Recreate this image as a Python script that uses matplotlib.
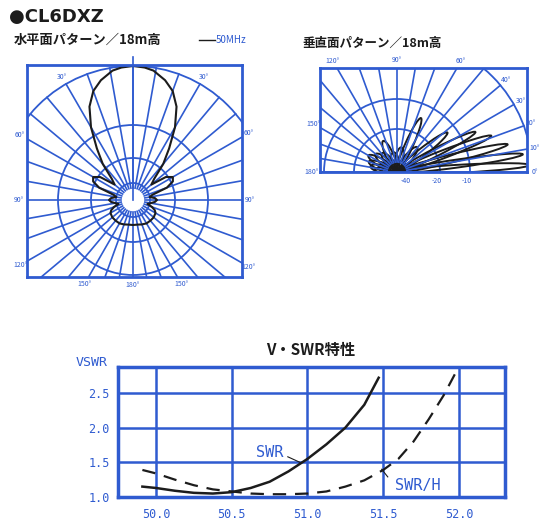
import numpy as np
import matplotlib
matplotlib.use("Agg")
import matplotlib.pyplot as plt
from matplotlib.patches import Circle, Ellipse

plt.rcParams['font.family'] = ['Noto Sans CJK JP', 'DejaVu Sans']

W, H = 550, 521
BLUE = '#2f5bd0'
INK = '#1c1c1c'

# ---------------- horizontal pattern (pixels from centre, angle from front) ----------------
h_ang = [0, 5, 9, 15, 20, 25, 30, 35, 40, 45, 50, 55, 60, 65, 70, 75, 80, 85,
         90, 95, 100, 105, 110, 115, 120, 130, 140, 150, 160, 170, 180]
h_rad = [134, 133, 131, 124, 116, 103, 84, 63, 47, 30, 24, 40, 46, 44, 36, 20, 17, 22,
         24, 22, 18, 15, 20, 24, 26, 27, 27, 27, 26, 25, 25]
h_rings = [134, 75, 42, 17]
h_label_ang = [30, 60, 90, 120, 150, 180]

# ---------------- vertical pattern (lobes: elevation deg, length px) ----------------
v_lobe_ang = [3, 8, 14, 21, 27, 38, 51, 66, 80, 100, 114, 128, 140, 150, 160, 168, 175]
v_lobe_len = [133, 127, 114, 101, 88, 64, 32, 59, 25, 20, 34, 24, 28, 33, 30, 27, 22]
v_rings = [135, 73, 43, 12]
v_ring_text = ['', '-10', '-20', '-40']
v_label_ang = [0, 10, 20, 30, 40, 60, 90, 120, 150, 180]

# ---------------- VSWR ----------------
freq_swr = [49.91, 50.0, 50.125, 50.25, 50.375, 50.5, 50.625, 50.75, 50.875, 51.0,
            51.125, 51.25, 51.375, 51.47]
swr = [1.15, 1.13, 1.09, 1.06, 1.05, 1.07, 1.13, 1.22, 1.37, 1.55, 1.76, 2.0, 2.33, 2.72]
freq_swrh = [49.91, 50.0, 50.125, 50.25, 50.375, 50.5, 50.625, 50.75, 50.875, 51.0,
             51.125, 51.25, 51.375, 51.5, 51.6, 51.7, 51.8, 51.9, 51.98]
swrh = [1.39, 1.34, 1.25, 1.17, 1.11, 1.08, 1.05, 1.04, 1.04, 1.05,
        1.08, 1.15, 1.24, 1.39, 1.55, 1.8, 2.12, 2.47, 2.8]
x_ticks = [50.0, 50.5, 51.0, 51.5, 52.0]
y_ticks = [1.0, 1.5, 2.0, 2.5]


def px_axes(fig, x0, y0, x1, y1):
    return fig.add_axes([x0 / W, 1 - y1 / H, (x1 - x0) / W, (y1 - y0) / H])


def exit_dist(dx, dy, lims, R):
    xmin, xmax, ymin, ymax = lims
    t = R
    if dx > 1e-9:
        t = min(t, xmax / dx)
    elif dx < -1e-9:
        t = min(t, xmin / dx)
    if dy > 1e-9:
        t = min(t, ymax / dy)
    elif dy < -1e-9:
        t = min(t, ymin / dy)
    return t


def frame(ax, lims):
    ax.set_xlim(lims[0], lims[1])
    ax.set_ylim(lims[2], lims[3])
    ax.set_xticks([])
    ax.set_yticks([])
    for s in ax.spines.values():
        s.set_color(BLUE)
        s.set_linewidth(2)


fig = plt.figure(figsize=(W / 100, H / 100), dpi=100)

# ---- headings ----
fig.text(9 / W, 1 - 17 / H, '●CL6DXZ', family='DejaVu Sans', fontsize=13,
         weight='bold', va='center', color=INK)
fig.text(14 / W, 1 - 40 / H, '水平面パターン／18m高', fontsize=9.5, weight='bold',
         va='center', color=INK)
fig.add_artist(plt.Line2D([199 / W, 215 / W], [1 - 40 / H, 1 - 40 / H], color=INK, lw=1))
fig.text(216 / W, 1 - 40 / H, '50MHz', fontsize=7, va='center', color=BLUE)
fig.text(302 / W, 1 - 43 / H, '垂直面パターン／18m高', fontsize=9, weight='bold',
         va='center', color=INK)

# ---- horizontal pattern ----
hl = (-106, 109, -77, 135)
ax1 = px_axes(fig, 27, 65, 242, 277)
frame(ax1, hl)
for r in h_rings:
    ax1.add_patch(Circle((0, 0), r, fill=False, color=BLUE, lw=1.3))
for a in range(0, 360, 10):
    t = np.radians(a)
    ax1.plot([12 * np.sin(t), h_rings[0] * np.sin(t)], [12 * np.cos(t), h_rings[0] * np.cos(t)],
             color=BLUE, lw=1.2)
ax1.plot([0, 0], [0, 143], color=BLUE, lw=1.2, clip_on=False)
for a in h_label_ang:
    for side in ([1, -1] if a % 180 else [1]):
        t = np.radians(a)
        dx, dy = side * np.sin(t), np.cos(t)
        d = exit_dist(dx, dy, hl, h_rings[0]) + 8
        ax1.text(d * dx, d * dy, f'{a}°', fontsize=5, color=BLUE, ha='center',
                 va='center', clip_on=False)
ang = np.radians(np.array(h_ang))
rad = np.array(h_rad)
hx = np.concatenate([rad * np.sin(ang), -(rad * np.sin(ang))[::-1]])
hy = np.concatenate([rad * np.cos(ang), (rad * np.cos(ang))[::-1]])
ax1.plot(hx, hy, color=INK, lw=1.5)

# ---- vertical pattern ----
vl = (-77, 130, 0, 104)
ax2 = px_axes(fig, 320, 68, 527, 172)
frame(ax2, vl)
for r in v_rings:
    ax2.add_patch(Circle((0, 0), r, fill=False, color=BLUE, lw=1.3))
for a in range(0, 181, 10):
    t = np.radians(a)
    ax2.plot([10 * np.cos(t), v_rings[0] * np.cos(t)], [10 * np.sin(t), v_rings[0] * np.sin(t)],
             color=BLUE, lw=1.2)
for a in v_label_ang:
    t = np.radians(a)
    dx, dy = np.cos(t), np.sin(t)
    d = exit_dist(dx, dy, vl, v_rings[0]) + 8
    ax2.text(d * dx, d * dy, f'{a}°', fontsize=5, color=BLUE, ha='center',
             va='center', clip_on=False)
for r, s in zip(v_rings, v_ring_text):
    if s:
        ax2.text(r - 3, -9, s, fontsize=5, color=BLUE, ha='center', va='center', clip_on=False)
for a, L in zip(v_lobe_ang, v_lobe_len):
    t = np.radians(a)
    ax2.add_patch(Ellipse((L / 2 * np.cos(t), L / 2 * np.sin(t)), L, 8, angle=a,
                          fill=False, edgecolor=INK, lw=1.4))

# ---- VSWR ----
ax3 = px_axes(fig, 118, 367, 505, 497)
ax3.set_xlim(49.749, 52.304)
ax3.set_ylim(1.0, 2.875)
ax3.set_xticks(x_ticks)
ax3.set_yticks(y_ticks)
ax3.set_xticklabels([f'{v:.1f}' for v in x_ticks], family='DejaVu Sans Mono', fontsize=8.5,
                    color=BLUE)
ax3.set_yticklabels([f'{v:.1f}' for v in y_ticks], family='DejaVu Sans Mono', fontsize=8.5,
                    color=BLUE)
ax3.tick_params(axis='x', length=0, pad=8)
ax3.tick_params(axis='y', length=0, pad=6)
ax3.grid(color=BLUE, lw=1.8)
for s in ax3.spines.values():
    s.set_color(BLUE)
    s.set_linewidth(2.5)
ax3.plot(freq_swr, swr, color=INK, lw=1.8)
ax3.plot(freq_swrh, swrh, color=INK, lw=1.6, dashes=(6, 4))
ax3.text(50.75, 1.635, 'SWR', family='DejaVu Sans Mono', fontsize=11, color=BLUE,
         ha='center', va='center')
ax3.plot([50.87, 50.95], [1.58, 1.50], color=INK, lw=0.8)
ax3.text(51.73, 1.17, 'SWR/H', family='DejaVu Sans Mono', fontsize=11, color=BLUE,
         ha='center', va='center')
ax3.plot([51.53, 51.49], [1.29, 1.40], color=INK, lw=0.8)
fig.text(311 / W, 1 - 350 / H, 'V・SWR特性', fontsize=11, weight='bold', ha='center',
         va='center', color=INK)
fig.text(92 / W, 1 - 362 / H, 'VSWR', family='DejaVu Sans Mono', fontsize=9.5,
         ha='center', va='center', color=BLUE)

fig.savefig('out.png', dpi=100)
